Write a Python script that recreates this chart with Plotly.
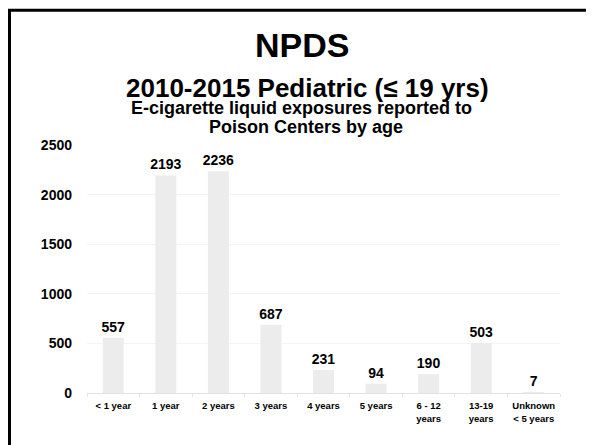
import plotly.graph_objects as go

# data
age_groups = ["< 1 year", "1 year", "2 years", "3 years", "4 years",
              "5 years", "6 - 12<br>years", "13-19<br>years", "Unknown<br>< 5 years"]
exposures = [557, 2193, 2236, 687, 231, 94, 190, 503, 7]
y_ticks = [0, 500, 1000, 1500, 2000, 2500]

# page has an 8px body margin, so the figure is a bit smaller than the window
W, H = 586, 437
L, R, T, B = 79, 34, 137, 52
plot_w = W - L - R
plot_h = H - T - B


def px(x):
    return (x - L) / plot_w


def py(y):
    return (H - B - y) / plot_h


font = "Liberation Sans, Arial, sans-serif"

fig = go.Figure()
fig.add_trace(go.Bar(
    x=age_groups,
    y=exposures,
    marker_color="#ececec",
    marker_line_width=0,
    text=exposures,
    textposition="outside",
    constraintext="none",
    cliponaxis=False,
    textfont=dict(family=font, size=14, color="black", weight="bold"),
))

fig.update_layout(
    width=W, height=H,
    margin=dict(l=L, r=R, t=T, b=B),
    paper_bgcolor="white",
    plot_bgcolor="white",
    showlegend=False,
    bargap=0.6,
    font=dict(family=font, color="black"),
    xaxis=dict(
        showline=True, linecolor="#e2e2e2", linewidth=1,
        ticks="outside", tickson="boundaries", ticklen=3, tickcolor="#e6e6e6",
        tickangle=0, automargin=False, ticklabelstandoff=4,
        tickfont=dict(size=9.5, weight="bold"),
    ),
    yaxis=dict(
        range=[0, 2500], tickvals=y_ticks,
        showgrid=True, gridcolor="#f4f4f4",
        zeroline=False, showline=False, ticks="", automargin=False,
        tickfont=dict(size=14, weight="bold"), ticklabelstandoff=14,
    ),
)

titles = [
    ("NPDS", 294, 37, 34),
    ("2010-2015 Pediatric (≤ 19 yrs)", 299, 80, 26),
    ("E-cigarette liquid exposures reported to", 293, 100, 18),
    ("Poison Centers by age", 298, 119, 18),
]
for txt, x, y, size in titles:
    fig.add_annotation(
        text=txt, x=px(x), y=py(y), xref="paper", yref="paper",
        xanchor="center", yanchor="middle", showarrow=False,
        font=dict(family=font, size=size, color="black", weight="bold"),
    )

# slide frame, running off the right and bottom edges
fig.add_shape(
    type="rect", xref="paper", yref="paper",
    x0=px(1.5), y0=py(460), x1=px(620), y1=py(2.3),
    line=dict(color="black", width=3), fillcolor="rgba(0,0,0,0)",
)

fig.write_html("out.html")
